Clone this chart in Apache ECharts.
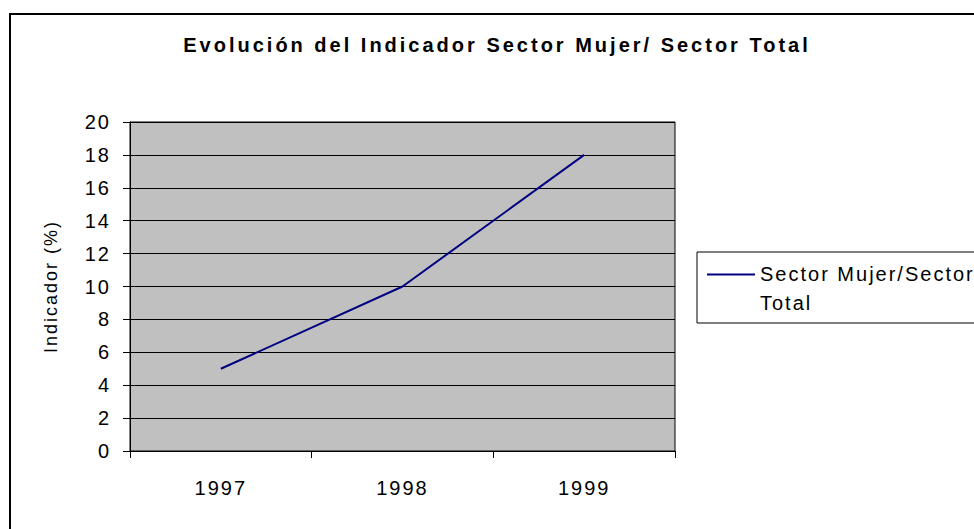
<!DOCTYPE html>
<html>
<head>
<meta charset="utf-8">
<script src="https://cdn.jsdelivr.net/npm/echarts@6/dist/echarts.min.js"></script>
<style>
  html, body { margin: 0; padding: 0; background: #fff; }
  #chart { width: 974px; height: 529px; }
  /* the original text is drawn with wide spacing */
  #chart text { letter-spacing: 2px; }
  #chart text[style*="bold"] { letter-spacing: 3px; }
</style>
</head>
<body>
<div id="chart"></div>
<script>
const years = ["1997", "1998", "1999"];
const indicador = [5, 10, 18];
const seriesName = "Sector Mujer/Sector Total";

const chart = echarts.init(document.getElementById("chart"), null, { renderer: "svg" });
const font = "'Liberation Sans', Arial, sans-serif";

const option = {
  animation: false,
  backgroundColor: "#fff",
  textStyle: { fontFamily: font, color: "#000" },
  title: {
    text: "Evolución del Indicador Sector Mujer/ Sector Total",
    left: 497,
    top: 35,
    textAlign: "center",
    padding: 0,
    textStyle: { fontFamily: font, fontSize: 20, fontWeight: "bold", color: "#000" },
  },
  graphic: [
    // outer chart frame
    {
      type: "rect",
      shape: { x: 10, y: 14, width: 1000, height: 1000 },
      style: { fill: null, stroke: "#000", lineWidth: 2 },
      silent: true,
    },
    // legend frame
    {
      type: "rect",
      shape: { x: 697, y: 252, width: 400, height: 71 },
      style: { fill: "#fff", stroke: "#000", lineWidth: 1 },
      silent: true,
      z: -1,
    },
  ],
  legend: {
    left: 707,
    top: 259,
    padding: 0,
    itemWidth: 48,
    itemHeight: 29,
    itemGap: 0,
    formatter: function (name) {
      const i = name.lastIndexOf(" ");
      return name.slice(0, i) + "\n" + name.slice(i + 1);
    },
    textStyle: {
      fontFamily: font,
      fontSize: 20,
      color: "#000",
      lineHeight: 29,
    },
    // line sample sits level with the first text line
    data: [{ name: seriesName, icon: "path://M0,0H48V2H0Z M0,28.99H0.01V29H0Z" }],
    itemStyle: { color: "#000080" },
  },
  grid: {
    left: 130,
    top: 122,
    right: 299,
    bottom: 78,
    show: true,
    backgroundColor: "#c0c0c0",
    borderColor: "#000",
    borderWidth: 1,
  },
  xAxis: {
    type: "category",
    data: years,
    boundaryGap: true,
    axisLine: { lineStyle: { color: "#000", width: 1 } },
    axisTick: { show: true, length: 7, inside: false, lineStyle: { color: "#000" } },
    axisLabel: { margin: 27, fontSize: 20, color: "#000", fontFamily: font },
    splitLine: { show: false },
  },
  yAxis: {
    type: "value",
    min: 0,
    max: 20,
    interval: 2,
    name: "Indicador (%)",
    nameLocation: "middle",
    nameGap: 70,
    nameTextStyle: { fontSize: 18, color: "#000", fontFamily: font },
    axisLine: { show: true, lineStyle: { color: "#000", width: 1 } },
    axisTick: { show: true, length: 7, lineStyle: { color: "#000" } },
    axisLabel: { margin: 19, fontSize: 20, color: "#000", fontFamily: font },
    splitLine: { show: true, lineStyle: { color: "#000", width: 1 } },
  },
  series: [
    {
      name: seriesName,
      type: "line",
      data: indicador,
      symbol: "none",
      lineStyle: { color: "#000080", width: 2 },
      itemStyle: { color: "#000080" },
    },
  ],
};

chart.setOption(option);
</script>
</body>
</html>
